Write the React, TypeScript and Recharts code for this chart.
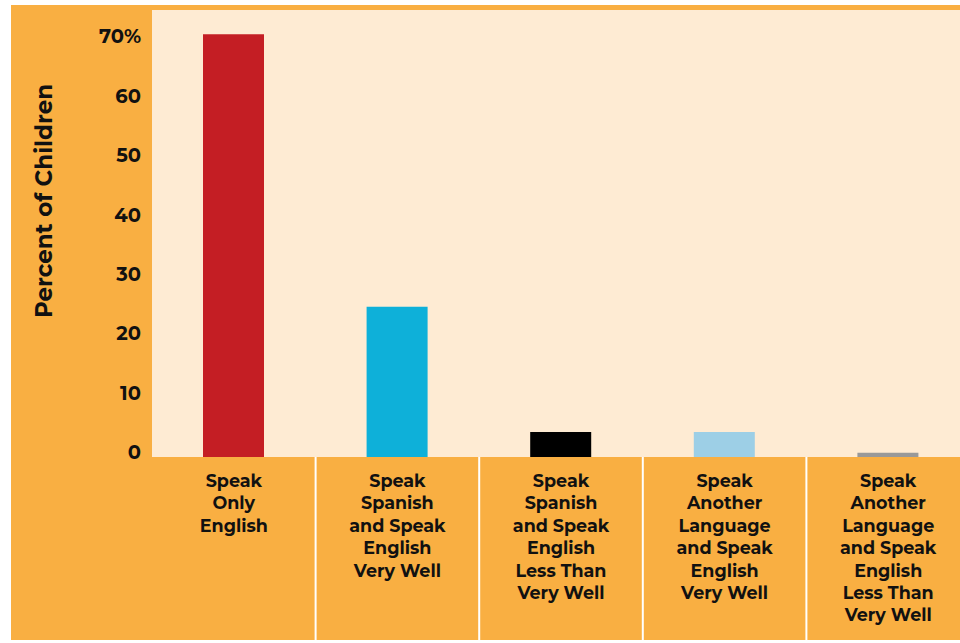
import { Bar, BarChart, CartesianGrid, Cell, XAxis, YAxis } from 'recharts'

const categories = [
  'Speak|Only|English',
  'Speak|Spanish|and Speak|English|Very Well',
  'Speak|Spanish|and Speak|English|Less Than|Very Well',
  'Speak|Another|Language|and Speak|English|Very Well',
  'Speak|Another|Language|and Speak|English|Less Than|Very Well',
]
const percents = [71.2, 25.3, 4.2, 4.2, 0.7]
const barColors = ['#C41E24', '#0EB0D9', '#000000', '#9DCFE6', '#999999']
const yTicks = [0, 10, 20, 30, 40, 50, 60, 70]

const data = categories.map((name, i) => ({ name, value: percents[i] }))

const FONT = 'Montserrat, "Open Sans", Lato, sans-serif'
const CHART_W = 980
const CHART_H = 643
const MARGIN = { top: 10, right: 10, left: 20, bottom: 0 }
const X_AXIS_H = 186
const Y_AXIS_W = 132
const BAND = (CHART_W - MARGIN.left - Y_AXIS_W - MARGIN.right) / categories.length
const PLOT_BOTTOM = CHART_H - X_AXIS_H

function CategoryTick(props: any) {
  const { x, payload } = props
  const lines = String(payload.value).split('|')
  return (
    <g>
      <line x1={x + BAND / 2} x2={x + BAND / 2} y1={PLOT_BOTTOM} y2={CHART_H - 3} stroke="#FFFFFF" strokeWidth={2} />
      <text x={x} y={PLOT_BOTTOM + 30} textAnchor="middle" fontFamily={FONT} fontWeight={700} fontSize={17.5} fill="#111">
        {lines.map((l, i) => (
          <tspan key={i} x={x} dy={i === 0 ? 0 : 22.4}>{l}</tspan>
        ))}
      </text>
    </g>
  )
}

function ValueTick(props: any) {
  const { y, payload } = props
  const label = payload.value === 70 ? '70%' : String(payload.value)
  return (
    <text x={141} y={y + 2} textAnchor="end" fontFamily={FONT} fontWeight={700} fontSize={19.5} fill="#111">
      {label}
    </text>
  )
}

function AxisTitle() {
  return (
    <text
      x={52}
      y={201}
      transform="rotate(-90, 52, 201)"
      textAnchor="middle"
      fontFamily={FONT}
      fontWeight={700}
      fontSize={23}
      fill="#111"
    >
      Percent of Children
    </text>
  )
}

export default function App() {
  return (
    <div style={{ position: 'absolute', left: 0, top: 0, width: 960, height: 643, overflow: 'hidden', background: '#fff' }}>
      <div style={{ position: 'absolute', left: 11, top: 5, width: 949, height: 635, background: '#F9AF42' }} />
      <div style={{ position: 'absolute', left: 0, top: 0 }}>
        <BarChart width={CHART_W} height={CHART_H} data={data} margin={MARGIN} barSize={61}>
          <CartesianGrid fill="#FEEBD3" stroke="none" horizontal={false} vertical={false} />
          <XAxis
            dataKey="name"
            height={X_AXIS_H}
            interval={0}
            axisLine={false}
            tickLine={false}
            tick={<CategoryTick />}
          />
          <YAxis
            width={Y_AXIS_W}
            domain={[0, 75.3]}
            ticks={yTicks}
            axisLine={false}
            tickLine={false}
            tick={<ValueTick />}
            label={<AxisTitle />}
          />
          <Bar dataKey="value" isAnimationActive={false}>
            {data.map((d, i) => (
              <Cell key={d.name} fill={barColors[i]} />
            ))}
          </Bar>
        </BarChart>
      </div>
    </div>
  )
}
